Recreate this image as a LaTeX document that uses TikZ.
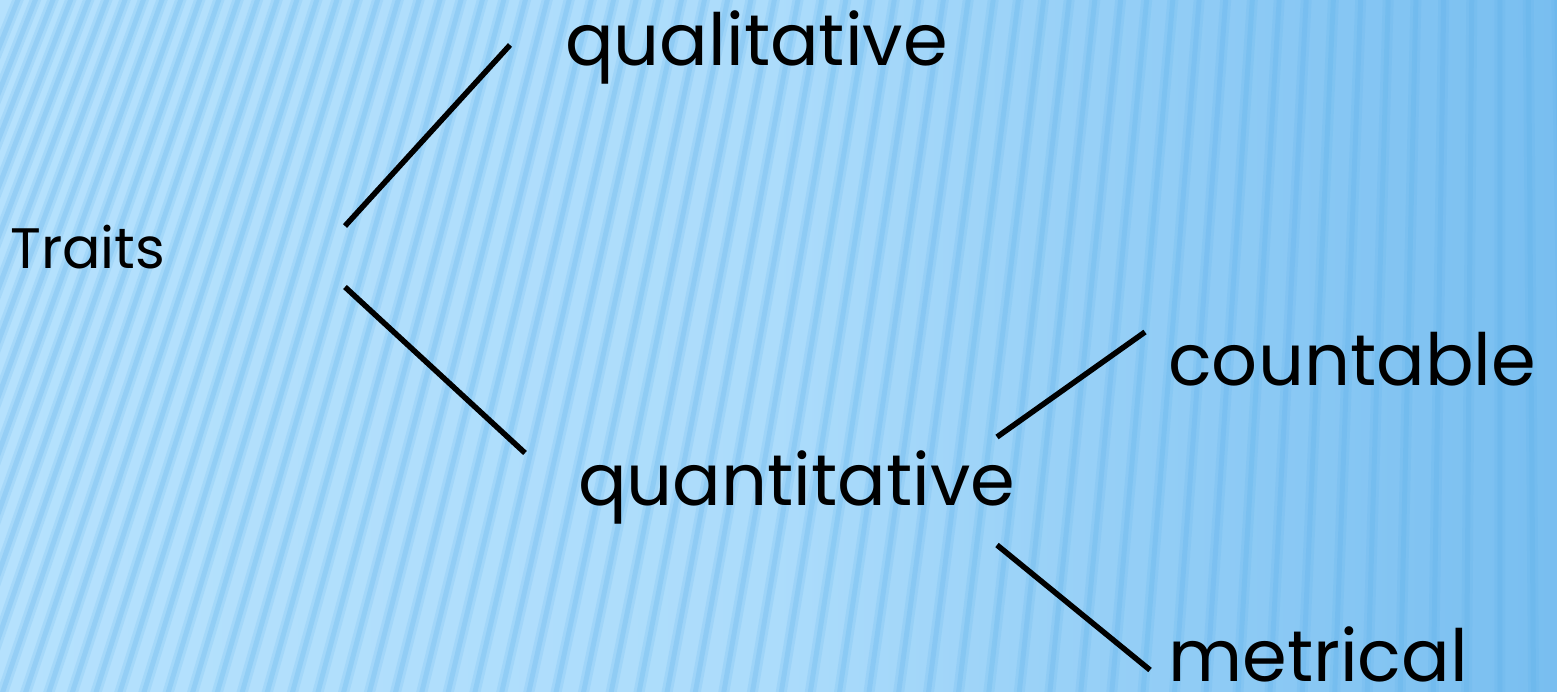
\documentclass[tikz,border=0pt]{standalone}
\usepackage{fontspec}
\setmainfont{Poppins}
\usetikzlibrary{calc}
\definecolor{bgL}{HTML}{B5E1FD}
\definecolor{bgR}{HTML}{78BEF0}
\definecolor{stripe}{HTML}{5AAFEA}
\tikzset{
  lbl/.style={anchor=base west, inner sep=0pt, text=black},
  big/.style={lbl, font=\fontsize{72}{80}\selectfont},
  small/.style={lbl, font=\fontsize{57}{64}\selectfont},
  branch/.style={line width=5.5pt, black},
}
\begin{document}
\begin{tikzpicture}[x=1pt,y=-1pt]
  \useasboundingbox (0,0) rectangle (1557,691);
  \shade[left color=bgL, right color=bgR, middle color=bgL!85!bgR] (0,0) rectangle (1557,691);
  \begin{scope}
    \clip (0,0) rectangle (1557,691);
    \foreach \i in {-12,...,56} {
      \pgfmathsetmacro\xb{\i*23+\i*\i*0.1}
      \pgfmathsetmacro\s{0.34*(1-\xb/1500)}
      \draw[stripe, opacity=0.16, line width=11pt] (\xb,700) -- ({\xb+\s*710},-10);
      \draw[stripe, opacity=0.22, line width=5pt] (\xb,700) -- ({\xb+\s*710},-10);
    }
  \end{scope}
  \node[small] (traits) at (10,268) {Traits};
  \node[big] (qual) at (565,65) {qualitative};
  \node[big] (quant) at (578,505) {quantitative};
  \node[big] (count) at (1168,385) {countable};
  \node[big] (metr) at (1168,681) {metrical};
  \coordinate (a1) at (345,226);
  \coordinate (a2) at (510,45);
  \coordinate (b1) at (345,287);
  \coordinate (b2) at (525,453);
  \coordinate (c1) at (997,437);
  \coordinate (c2) at (1145,332);
  \coordinate (d1) at (997,545);
  \coordinate (d2) at (1150,670);
  \draw[branch] (a1) -- (a2);
  \draw[branch] (b1) -- (b2);
  \draw[branch] (c1) -- (c2);
  \draw[branch] (d1) -- (d2);
\end{tikzpicture}
\end{document}
